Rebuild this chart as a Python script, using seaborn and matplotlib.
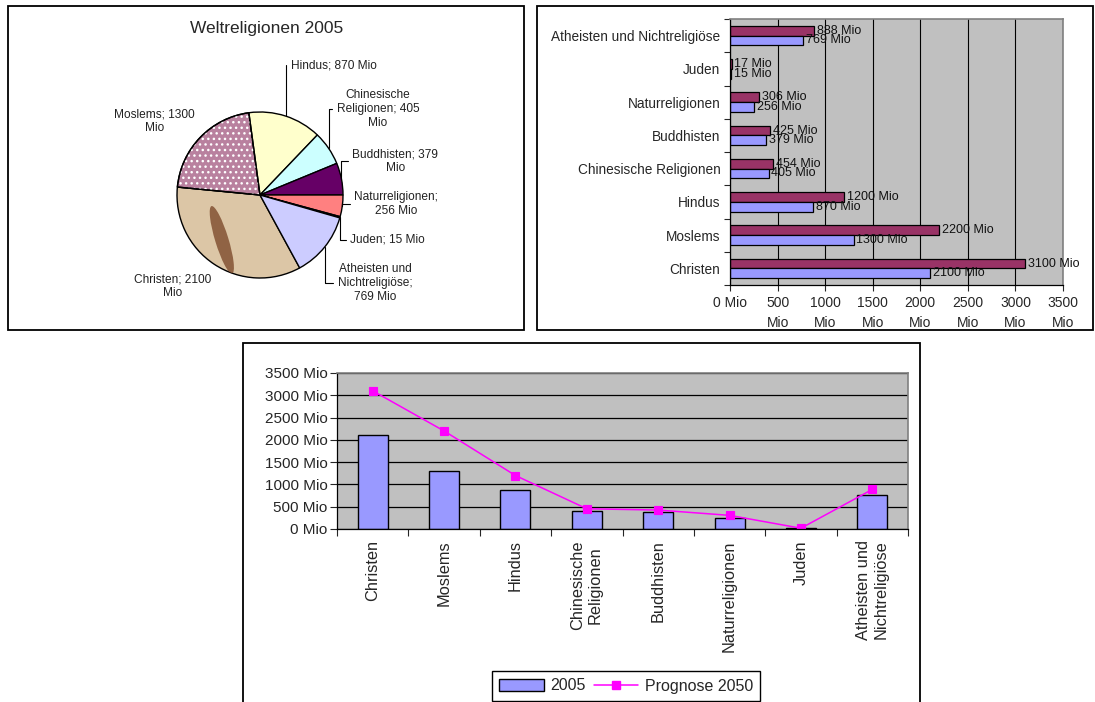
import numpy as np
import pandas as pd
import matplotlib
matplotlib.use("Agg")
import matplotlib.pyplot as plt
import seaborn as sns
from matplotlib.patches import Rectangle, Wedge, Ellipse, Patch
from matplotlib.lines import Line2D
from matplotlib.ticker import FixedLocator

# --- data ---
religionen = ["Christen", "Moslems", "Hindus", "Chinesische Religionen", "Buddhisten",
              "Naturreligionen", "Juden", "Atheisten und Nichtreligiöse"]
kurz_labels = ["Christen", "Moslems", "Hindus", "Chinesische\nReligionen", "Buddhisten",
               "Naturreligionen", "Juden", "Atheisten und\nNichtreligiöse"]
werte_2005 = [2100, 1300, 870, 405, 379, 256, 15, 769]
werte_2050 = [3100, 2200, 1200, 454, 425, 306, 17, 888]
pie_formate = ["Christen; {}\nMio", "Moslems; {}\nMio", "Hindus; {} Mio",
               "Chinesische\nReligionen; {}\nMio", "Buddhisten; {}\nMio",
               "Naturreligionen;\n{} Mio", "Juden; {} Mio",
               "Atheisten und\nNichtreligiöse;\n{} Mio"]
achsen_werte = [0, 500, 1000, 1500, 2000, 2500, 3000, 3500]
bar_ticklabels = ["0 Mio", "500\nMio", "1000\nMio", "1500\nMio", "2000\nMio",
                  "2500\nMio", "3000\nMio", "3500\nMio"]

pie_colors = ["#dcc6a6", "#b9819f", "#ffffcc", "#ccffff", "#660066",
              "#ff8080", "#0066cc", "#ccccff"]

sns.set_style("white")
plt.rcParams["font.family"] = ["Liberation Sans", "DejaVu Sans"]

W, H = 1095, 702
fig = plt.figure(figsize=(W / 100, H / 100), dpi=100)


def px_box(x0, y0, x1, y1):
    return [x0 / W, 1 - y1 / H, (x1 - x0) / W, (y1 - y0) / H]


# panel frames
for x0, y0, x1, y1 in [(8, 6, 524, 330), (537, 6, 1093, 330), (243, 343, 920, 712)]:
    fig.add_artist(Rectangle((x0 / W, 1 - y1 / H), (x1 - x0) / W, (y1 - y0) / H,
                             transform=fig.transFigure, fill=False,
                             edgecolor="black", linewidth=1.3))

# --- pie chart ---
R = 83
cx, cy, half = 260, 195, 170
ax1 = fig.add_axes(px_box(cx - half, cy - half, cx + half, cy + half))
wedges, _ = ax1.pie(werte_2005, colors=pie_colors, startangle=-61.44, counterclock=False,
                    wedgeprops=dict(edgecolor="black", linewidth=1))
ax1.set_xlim(-half / R, half / R)
ax1.set_ylim(-half / R, half / R)
ax1.set_aspect("equal")
ax1.axis("off")

# pattern on Moslems wedge, streak on Christen wedge
w = wedges[1]
ax1.add_patch(Wedge(w.center, w.r, w.theta1, w.theta2, facecolor="none",
                    edgecolor="white", hatch="...", linewidth=0))
ax1.add_patch(Wedge(w.center, w.r, w.theta1, w.theta2, facecolor="none",
                    edgecolor="black", linewidth=1))
streak = Ellipse((-0.46, -0.54), 0.16, 0.85, angle=17, facecolor="#7d4a2c", alpha=0.8,
                 linewidth=0)
streak.set_clip_path(wedges[0])
ax1.add_patch(streak)

text_pos = [(-1.05, -1.10), (-1.27, 0.89), (0.373, 1.566), (1.42, 1.036),
            (1.63, 0.41), (1.64, -0.11), (1.54, -0.54), (1.39, -1.06)]
leader = [False, False, True, True, True, True, True, True]
for i, (fmt, v) in enumerate(zip(pie_formate, werte_2005)):
    wd = wedges[i]
    th = np.deg2rad((wd.theta1 + wd.theta2) / 2)
    tx, ty = text_pos[i]
    ha = "left" if i == 2 else "center"
    if leader[i]:
        ax1.annotate(fmt.format(v), xy=(np.cos(th), np.sin(th)), xytext=(tx, ty),
                     ha=ha, va="center", multialignment="center", fontsize=8.6,
                     color="#222222",
                     arrowprops=dict(arrowstyle="-", color="black", lw=0.8,
                                     shrinkA=1, shrinkB=0,
                                     connectionstyle="angle,angleA=0,angleB=90,rad=0"))
    else:
        ax1.text(tx, ty, fmt.format(v), ha=ha, va="center", multialignment="center",
                 fontsize=8.6, color="#222222")

fig.text(267 / W, 1 - 29 / H, "Weltreligionen 2005", ha="center", va="center",
         fontsize=12.5)

# --- horizontal bar chart ---
ax2 = fig.add_axes(px_box(730, 19, 1063, 285))
df = pd.DataFrame({
    "Religion": religionen * 2,
    "Mio": werte_2050 + werte_2005,
    "Jahr": ["Prognose 2050"] * 8 + ["2005"] * 8,
})
sns.barplot(data=df, x="Mio", y="Religion", hue="Jahr", order=religionen[::-1],
            hue_order=["Prognose 2050", "2005"],
            palette={"Prognose 2050": "#993366", "2005": "#9999ff"},
            orient="h", width=0.58, saturation=1, edgecolor="black", linewidth=0.9,
            errorbar=None, legend=False, ax=ax2)
for cont in ax2.containers:
    ax2.bar_label(cont, labels=[f"{v:.0f} Mio" for v in cont.datavalues],
                  padding=2, fontsize=9, color="#111111")
ax2.set_facecolor("#c0c0c0")
ax2.set_xlim(0, 3500)
ax2.set_ylim(7.5, -0.5)
ax2.set_xticks(achsen_werte)
ax2.set_xticklabels(bar_ticklabels, fontsize=10, linespacing=1.55)
ax2.tick_params(axis="y", which="major", length=0, labelsize=9.8, pad=7)
ax2.yaxis.set_minor_locator(FixedLocator(np.arange(-0.5, 8, 1)))
ax2.tick_params(axis="y", which="minor", length=4, width=0.8, direction="out", left=True)
ax2.tick_params(axis="x", length=4, width=0.8, direction="out", bottom=True, pad=4)
ax2.xaxis.grid(True, color="black", linewidth=0.8)
ax2.yaxis.grid(False)
ax2.set_axisbelow(True)
ax2.set_xlabel("")
ax2.set_ylabel("")
for s in ["left", "bottom"]:
    ax2.spines[s].set_color("black")
    ax2.spines[s].set_linewidth(0.9)
for s in ["top", "right"]:
    ax2.spines[s].set_color("#808080")
    ax2.spines[s].set_linewidth(1.2)

# --- column + line chart ---
ax3 = fig.add_axes(px_box(337, 373, 908, 529))
sns.barplot(x=kurz_labels, y=werte_2005, color="#9999ff", saturation=1,
            edgecolor="black", linewidth=1, width=0.42, errorbar=None, ax=ax3)
sns.pointplot(x=kurz_labels, y=werte_2050, color="#ff00ff", markers="s",
              linestyles="-", markersize=6, linewidth=1.1, errorbar=None, ax=ax3)
ax3.set_facecolor("#c0c0c0")
ax3.set_xlim(-0.5, 7.5)
ax3.set_ylim(0, 3500)
ax3.set_yticks(achsen_werte)
ax3.set_yticklabels([f"{v} Mio" for v in achsen_werte], fontsize=11)
ax3.tick_params(axis="y", length=5, width=0.8, direction="out", left=True, pad=2)
ax3.set_xticks(range(8))
ax3.set_xticklabels(kurz_labels, rotation=90, fontsize=11.8, va="top", ha="center")
ax3.tick_params(axis="x", which="major", length=0, pad=8)
ax3.xaxis.set_minor_locator(FixedLocator(np.arange(-0.5, 8, 1)))
ax3.tick_params(axis="x", which="minor", length=5, width=0.8, direction="out", bottom=True)
ax3.yaxis.grid(True, color="black", linewidth=0.9)
ax3.xaxis.grid(False)
ax3.set_axisbelow(True)
for s in ["left", "bottom"]:
    ax3.spines[s].set_color("black")
    ax3.spines[s].set_linewidth(0.9)
for s in ["top", "right"]:
    ax3.spines[s].set_color("#808080")
    ax3.spines[s].set_linewidth(1.2)

handles = [Patch(facecolor="#9999ff", edgecolor="black", linewidth=1),
           Line2D([], [], color="#ff00ff", marker="s", markersize=6, linewidth=1.1)]
leg = fig.legend(handles, ["2005", "Prognose 2050"], loc="center",
                 bbox_to_anchor=(626 / W, 1 - 686 / H), ncol=2, fontsize=11.5,
                 frameon=True, fancybox=False, edgecolor="black", framealpha=1,
                 handlelength=2.8, columnspacing=0.5, handletextpad=0.4,
                 borderpad=0.45)
leg.get_frame().set_linewidth(1)

fig.savefig("out.png", dpi=100)
